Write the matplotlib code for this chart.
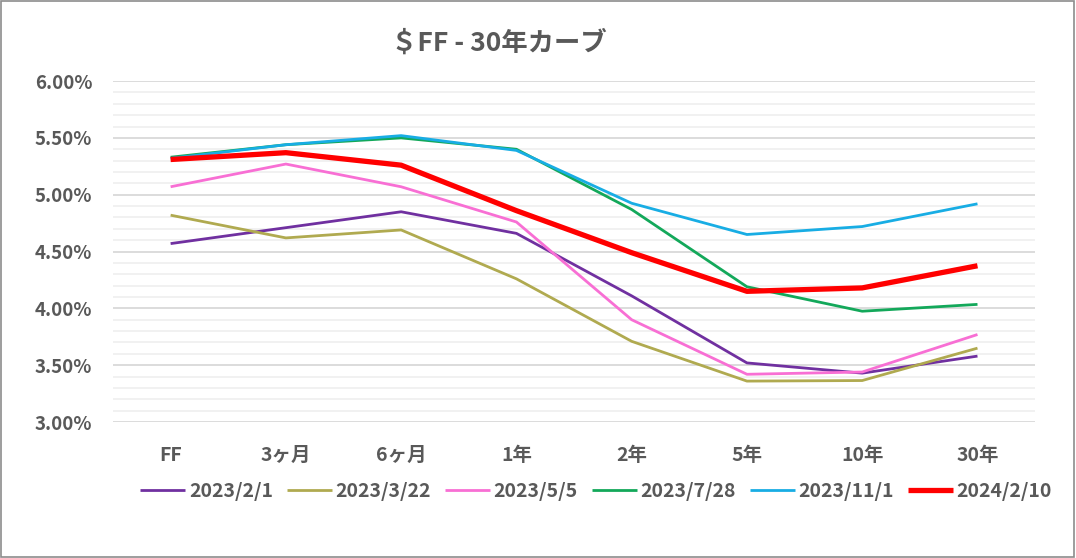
import matplotlib
matplotlib.use("Agg")
import matplotlib.pyplot as plt
from matplotlib.ticker import MultipleLocator, FuncFormatter
from matplotlib.patches import Rectangle

plt.rcParams['font.family'] = ['Noto Sans CJK JP', 'DejaVu Sans']

# --- データ ---
tenors = ["FF", "3ヶ月", "6ヶ月", "1年", "2年", "5年", "10年", "30年"]
dates = ["2023/2/1", "2023/3/22", "2023/5/5", "2023/7/28", "2023/11/1", "2024/2/10"]
r_20230201 = [4.57, 4.71, 4.85, 4.66, 4.11, 3.52, 3.43, 3.58]
r_20230322 = [4.82, 4.62, 4.69, 4.26, 3.71, 3.36, 3.365, 3.65]
r_20230505 = [5.07, 5.27, 5.07, 4.76, 3.90, 3.42, 3.44, 3.77]
r_20230728 = [5.33, 5.44, 5.50, 5.40, 4.87, 4.19, 3.975, 4.035]
r_20231101 = [5.32, 5.44, 5.52, 5.39, 4.925, 4.65, 4.72, 4.92]
r_20240210 = [5.31, 5.37, 5.26, 4.86, 4.49, 4.15, 4.18, 4.375]

series = [r_20230201, r_20230322, r_20230505, r_20230728, r_20231101, r_20240210]
colors = ["#7030A0", "#B0AA50", "#F86FD4", "#13A85A", "#18ADE4", "#FF0000"]
widths = [2.0, 2.0, 2.0, 2.0, 2.0, 3.8]

txt = "#595959"

fig = plt.figure(figsize=(10.76, 5.58), dpi=100)
ax = fig.add_axes([0.105, 0.2437, 0.857, 0.611])

x = list(range(len(tenors)))
for vals, lab, c, lw in zip(series, dates, colors, widths):
    ax.plot(x, vals, color=c, lw=lw, label=lab, solid_capstyle="butt", zorder=3)

ax.set_xlim(-0.5, len(tenors) - 0.5)
ax.set_ylim(3.0, 6.0)
ax.yaxis.set_major_locator(MultipleLocator(0.5))
ax.yaxis.set_minor_locator(MultipleLocator(0.1))
ax.yaxis.set_major_formatter(FuncFormatter(lambda v, p: f"{v:.2f}%"))
ax.grid(axis="y", which="major", color="#D9D9D9", lw=1.3, zorder=0)
ax.grid(axis="y", which="minor", color="#F0F0F0", lw=1.3, zorder=0)
ax.set_xticks(x)
ax.set_xticklabels(tenors)
for s in ax.spines.values():
    s.set_visible(False)
ax.tick_params(axis="both", which="both", length=0, colors=txt)
ax.tick_params(axis="y", pad=15, labelsize=13.5)
ax.tick_params(axis="x", pad=17, labelsize=14)
for t in ax.get_xticklabels() + ax.get_yticklabels():
    t.set_fontweight("bold")

fig.text(0.464, 0.923, "＄FF - 30年カーブ", ha="center", va="center",
         fontsize=19, fontweight="bold", color=txt)

leg = fig.legend(loc="center", bbox_to_anchor=(0.554, 0.12), ncol=6, frameon=False,
                 handlelength=2.3, handletextpad=0.2, columnspacing=0.72,
                 prop={"size": 14, "weight": "bold"})
for t in leg.get_texts():
    t.set_color(txt)

# 外枠
fig.patches.append(Rectangle((0.001, 0.002), 0.997, 0.996, transform=fig.transFigure,
                             fill=False, edgecolor="#8C8C8C", lw=1.2))

fig.savefig("out.png", dpi=100)
